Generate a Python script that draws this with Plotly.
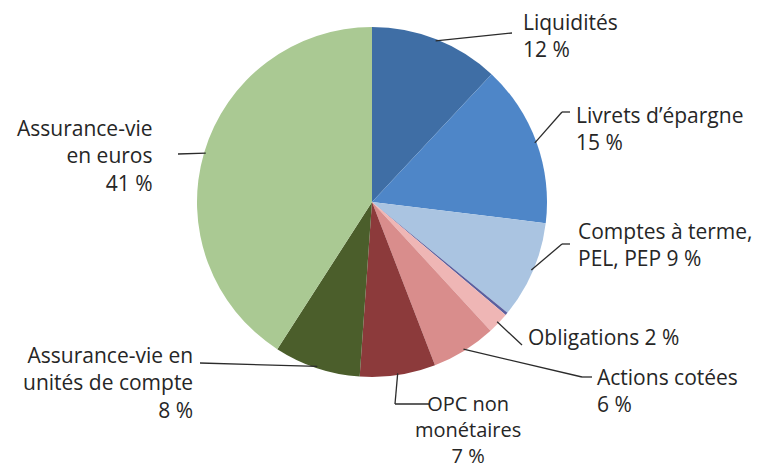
import math
import plotly.graph_objects as go

labels = ["Liquidités", "Livrets d’épargne", "Comptes à terme, PEL, PEP", "Autres",
          "Obligations", "Actions cotées", "OPC non monétaires",
          "Assurance-vie en unités de compte", "Assurance-vie en euros"]
values = [12, 15, 9, 0.25, 2, 6, 7, 8, 41]
colors = ["#3f6ea5", "#4e86c8", "#aac4e1", "#5b5f9e", "#efb6b5", "#d98d8c",
          "#8c3a3b", "#4b5e2b", "#aac993"]
label_texts = ["Liquidités<br>12 %", "Livrets d’épargne<br>15 %",
               "Comptes à terme,<br>PEL, PEP 9 %", None, "Obligations 2 %",
               "Actions cotées<br>6 %", "OPC non<br>monétaires<br>7 %",
               "Assurance-vie en<br>unités de compte<br>8 %",
               "Assurance-vie<br>en euros<br>41 %"]

W, H = 760, 468
OFF = 8  # page body margin
L, T, PW, PH = 197 - OFF, 27 - OFF, 350, 350
R, B = W - L - PW, H - T - PH
CX, CY, RAD = 372, 202, 175  # in page pixels

def to_paper(px, py):
    fx, fy = px - OFF, py - OFF
    return (fx - L) / PW, (H - B - fy) / PH

fig = go.Figure(go.Pie(
    labels=labels, values=values, sort=False, direction="clockwise", rotation=0,
    marker=dict(colors=colors, line=dict(width=0)), textinfo="none",
    hoverinfo="label+value", showlegend=False))

layout_spec = {
    0: [(512, 33)], 1: [(562, 112), (570, 112)], 2: [(562, 244), (570, 244)],
    4: [(522, 345)], 5: [(582, 377), (592, 377)],
    6: [(395, 404), (429, 404)], 7: [(200, 363)], 8: [(178, 154)],
}
text_pos = {
    0: (521, 35, "left", "left", 21), 1: (574, 128, "left", "left", 21),
    2: (576, 244, "left", "left", 21), 4: (526, 337, "left", "left", 21),
    5: (595, 390, "left", "left", 21), 6: (468, 429, "center", "center", 20),
    7: (195, 382, "right", "right", 21), 8: (155, 155, "right", "right", 21),
}

total = sum(values)
cum = 0
shapes, annotations = [], []
for i, v in enumerate(values):
    mid = (cum + v / 2) / total * 2 * math.pi
    cum += v
    if label_texts[i] is None:
        continue
    ax, ay = CX + RAD * 0.99 * math.sin(mid), CY - RAD * 0.99 * math.cos(mid)
    pts = [(ax, ay)] + layout_spec[i]
    for (x0, y0), (x1, y1) in zip(pts[:-1], pts[1:]):
        p0, p1 = to_paper(x0, y0), to_paper(x1, y1)
        shapes.append(dict(type="line", xref="paper", yref="paper",
                           x0=p0[0], y0=p0[1], x1=p1[0], y1=p1[1],
                           line=dict(color="#2b2b2b", width=1.3)))
    tx, ty, xa, al, fs = text_pos[i]
    px, py = to_paper(tx, ty)
    annotations.append(dict(x=px, y=py, xref="paper", yref="paper", text=label_texts[i],
                            showarrow=False, xanchor=xa, yanchor="middle", align=al,
                            font=dict(size=fs, color="#262626", family="Open Sans")))

fig.update_layout(width=W, height=H, margin=dict(l=L, r=R, t=T, b=B),
                  paper_bgcolor="white", plot_bgcolor="white",
                  shapes=shapes, annotations=annotations,
                  font=dict(family="Open Sans"))
fig.write_html("out.html")
